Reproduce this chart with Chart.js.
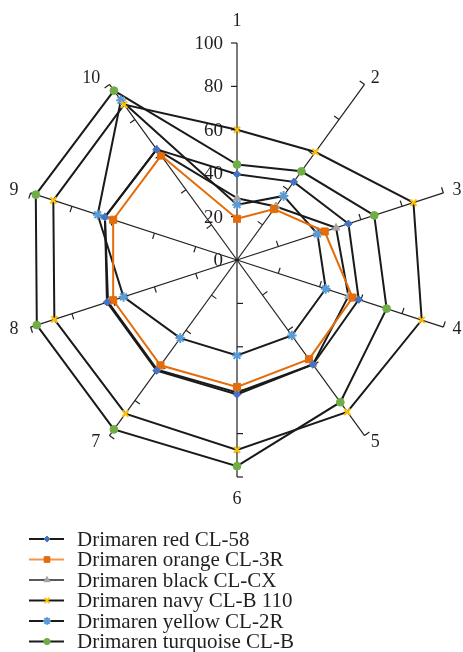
<!DOCTYPE html>
<html>
<head>
<meta charset="utf-8">
<script src="https://cdn.jsdelivr.net/npm/chart.js@4"></script>
<style>
  html, body { margin: 0; padding: 0; background: #fff; overflow: hidden; }
  canvas { display: block; }
</style>
</head>
<body>
<canvas id="chart" width="463" height="652"></canvas>
<script>
// Spoke labels (one per test point)
const categories = ['1', '2', '3', '4', '5', '6', '7', '8', '9', '10'];

// Dye names as shown in the legend
const seriesNames = [
  'Drimaren red CL-58',
  'Drimaren orange CL-3R',
  'Drimaren black CL-CX',
  'Drimaren navy CL-B 110',
  'Drimaren yellow CL-2R',
  'Drimaren turquoise CL-B'
];

// Values per spoke, 0–100
const redCL58        = [39.5, 44.5, 54, 59, 59.5, 62, 63, 63, 64, 63];
const orangeCL3R     = [19, 29, 42.5, 56, 56.5, 58.5, 60, 60, 60, 59.5];
const blackCLCX      = [28.5, 30.5, 48, 54, 59.5, 61, 62.5, 62.5, 64, 63];
const navyCLB110     = [60, 61.5, 85.5, 89.5, 86.5, 87.5, 87.5, 88.5, 89, 88.5];
const yellowCL2R     = [25.5, 36.5, 39, 43, 43, 44, 44.5, 55, 67.5, 91];
const turquoiseCLB   = [44, 50.5, 66.5, 72.5, 81, 95, 96.5, 97, 97.5, 96.5];

// Radial axis ticks
const tickValues = [0, 20, 40, 60, 80, 100];

const INK = '#231f20';
const SERIF = '"Liberation Serif", "Times New Roman", serif';

const seriesData = [redCL58, orangeCL3R, blackCLCX, navyCLB110, yellowCL2R, turquoiseCLB];
const lineColors = ['#1a1a1a', '#e46c0a', '#1a1a1a', '#1a1a1a', '#1a1a1a', '#1a1a1a'];
const legendLineColors = ['#1a1a1a', '#f79646', '#595959', '#1a1a1a', '#1a1a1a', '#1a1a1a'];
const markerColors = ['#4472c4', '#e46c0a', '#a5a5a5', '#ffc000', '#5b9bd5', '#70ad47'];
const markerStyles = ['rectRot', 'rect', 'triangle', 'crossRot', 'star', 'circle'];
const markerSizes = [3.8, 5, 4.4, 4.4, 4.8, 3.9];

const datasets = seriesData.map((values, i) => ({
  label: seriesNames[i],
  data: values,
  fill: false,
  borderColor: lineColors[i],
  borderWidth: 2,
  pointStyle: markerStyles[i],
  pointRadius: markerSizes[i],
  pointHoverRadius: markerSizes[i],
  pointBackgroundColor: markerColors[i],
  pointBorderColor: markerColors[i],
  pointBorderWidth: (markerStyles[i] === 'crossRot' || markerStyles[i] === 'star') ? 2 : 1,
  tension: 0
}));

// Small tick marks on every spoke plus the value labels along spoke 1
const spokeTicks = {
  id: 'spokeTicks',
  beforeDatasetsDraw(chart) {
    const s = chart.scales.r;
    const ctx = chart.ctx;
    const n = chart.data.labels.length;
    ctx.save();
    ctx.strokeStyle = INK;
    ctx.lineWidth = 1.2;
    for (let i = 0; i < n; i++) {
      const end = s.getPointPositionForValue(i, s.max);
      const ux = (end.x - s.xCenter) / s.drawingArea;
      const uy = (end.y - s.yCenter) / s.drawingArea;
      // tick side: perpendicular, turned counter-clockwise
      const tx = uy, ty = -ux;
      s.ticks.forEach(t => {
        if (t.value <= s.min) return;
        const p = s.getPointPositionForValue(i, t.value);
        ctx.beginPath();
        ctx.moveTo(p.x, p.y);
        ctx.lineTo(p.x + tx * 6, p.y + ty * 6);
        ctx.stroke();
      });
    }
    // value labels beside spoke 1
    ctx.fillStyle = INK;
    ctx.font = '19px ' + SERIF;
    ctx.textAlign = 'right';
    ctx.textBaseline = 'middle';
    s.ticks.forEach(t => {
      const p = s.getPointPositionForValue(0, t.value);
      ctx.fillText(String(t.value), p.x - 14, p.y + 1);
    });
    // spoke labels just beyond each spoke end
    ctx.font = '18px ' + SERIF;
    ctx.textAlign = 'center';
    for (let i = 0; i < n; i++) {
      const lbl = chart.data.labels[i];
      const end = s.getPointPositionForValue(i, s.max);
      const ux = (end.x - s.xCenter) / s.drawingArea;
      const uy = (end.y - s.yCenter) / s.drawingArea;
      const w = ctx.measureText(lbl).width;
      let x, y;
      if (Math.abs(ux) < 0.05) {
        x = end.x;
        y = end.y + uy * 22;
      } else {
        x = end.x + ux * 8 + Math.sign(ux) * (w / 2 + (ux < 0 ? 4.5 : 1.5));
        y = end.y + uy * 8;
      }
      ctx.fillText(lbl, x, y);
    }
    ctx.restore();
  }
};

// Legend stacked below the plot: line sample with marker, then name
const stackedLegend = {
  id: 'stackedLegend',
  afterDraw(chart) {
    const ctx = chart.ctx;
    const top = chart.chartArea.bottom + 61;
    const rowH = 20.5;
    ctx.save();
    ctx.font = '21px ' + SERIF;
    ctx.textBaseline = 'middle';
    ctx.textAlign = 'left';
    chart.data.datasets.forEach((ds, i) => {
      const y = top + i * rowH;
      ctx.strokeStyle = legendLineColors[i];
      ctx.lineWidth = 1.8;
      ctx.beginPath();
      ctx.moveTo(29, y);
      ctx.lineTo(64, y);
      ctx.stroke();
      ctx.fillStyle = markerColors[i];
      ctx.strokeStyle = markerColors[i];
      ctx.lineWidth = ds.pointBorderWidth;
      Chart.helpers.drawPoint(ctx, {
        pointStyle: ds.pointStyle,
        radius: ds.pointRadius * 0.8,
        rotation: 0,
        borderWidth: ds.pointBorderWidth
      }, 47, y);
      ctx.fillStyle = INK;
      ctx.fillText(ds.label, 77, y + 1);
    });
    ctx.restore();
  }
};

new Chart(document.getElementById('chart'), {
  type: 'radar',
  data: { labels: categories, datasets },
  options: {
    responsive: false,
    devicePixelRatio: 1,
    animation: false,
    layout: { padding: { left: 20, right: 8, top: 43, bottom: 174 } },
    plugins: {
      legend: { display: false },
      tooltip: { enabled: false }
    },
    scales: {
      r: {
        min: tickValues[0],
        max: tickValues[tickValues.length - 1],
        ticks: { stepSize: tickValues[1] - tickValues[0], display: false },
        grid: { display: false },
        angleLines: { display: true, color: INK, lineWidth: 1.2 },
        pointLabels: { display: false }
      }
    }
  },
  plugins: [spokeTicks, stackedLegend]
});
</script>
</body>
</html>
